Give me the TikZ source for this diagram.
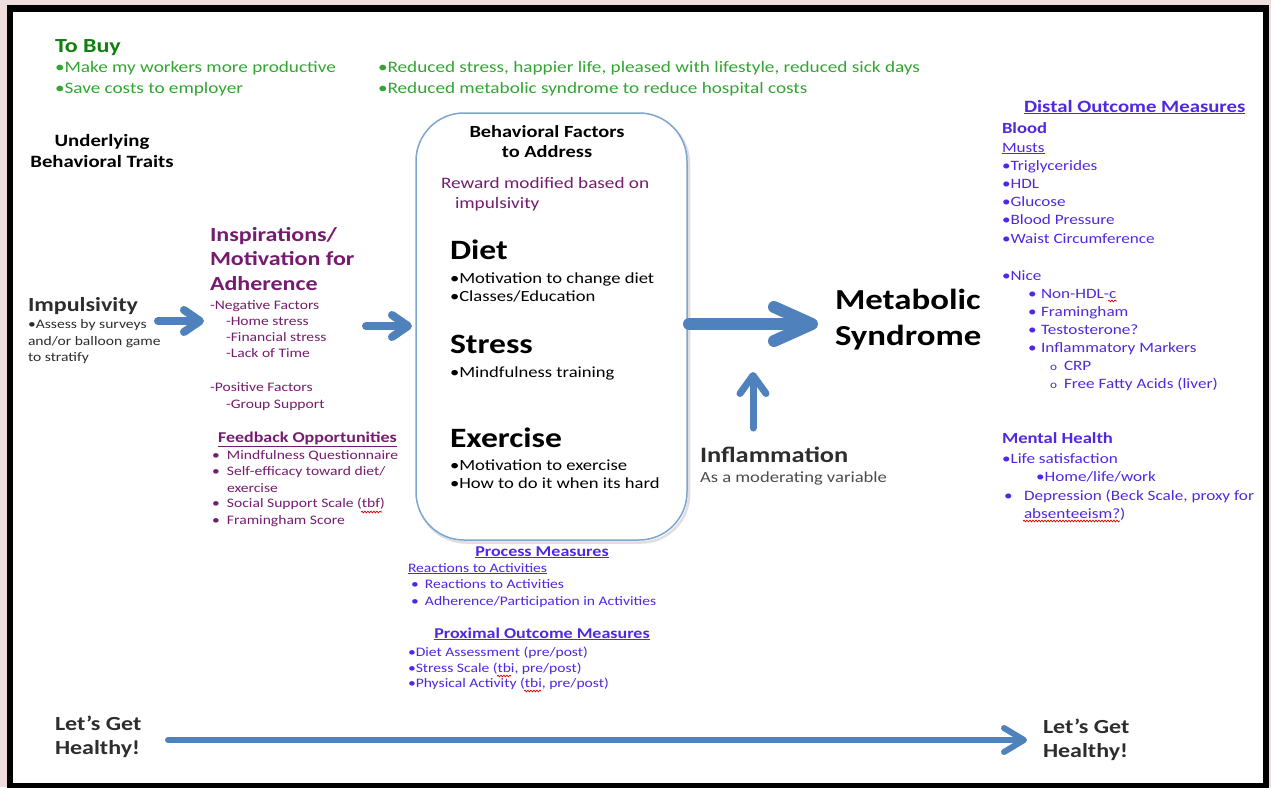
\documentclass[tikz,border=0pt]{standalone}
\usepackage{fontspec}
\setmainfont{Carlito}[FakeStretch=1.2]
\usetikzlibrary{arrows.meta,decorations.pathmorphing}
\definecolor{bgpink}{RGB}{240,222,222}
\definecolor{grnH}{RGB}{15,128,15}
\definecolor{grn}{RGB}{50,165,50}
\definecolor{purp}{RGB}{118,28,112}
\definecolor{viol}{RGB}{80,40,225}
\definecolor{dark}{RGB}{45,45,45}
\definecolor{arrc}{RGB}{79,129,189}
\definecolor{boxc}{RGB}{125,165,210}
\newcommand\fsz[2]{\fontsize{#1}{#2}\selectfont}
\newcommand\bitem[1]{\makebox[#1][l]{•}}
\begin{document}
\begin{tikzpicture}[x=1pt,y=-1pt,
  txt/.style={anchor=base west,inner sep=0pt,outer sep=0pt},
  ctxt/.style={anchor=base,inner sep=0pt,outer sep=0pt},
  gr/.style={txt,text=grn,font=\fsz{16}{19}},
  pu/.style={txt,text=purp,font=\fsz{13}{16}},
  puh/.style={txt,text=purp,font=\bfseries\fsz{20}{24}},
  bl/.style={txt,text=black,font=\fsz{15.5}{19}},
  blh/.style={txt,text=black,font=\bfseries\fsz{28}{32}},
  vi/.style={txt,text=viol,font=\fsz{13}{15}},
  ri/.style={txt,text=viol,font=\fsz{14.3}{17}},
  dk/.style={txt,text=dark,font=\fsz{13}{16}},
  dkh/.style={txt,text=dark,font=\bfseries\fsz{20}{24}},
  bigarrow/.style={draw=arrc,line cap=round},
  squig/.style={draw=red!85!black,line width=0.7pt,decorate,decoration={snake,amplitude=0.9pt,segment length=3pt}},
]
\useasboundingbox (0,0) rectangle (1271,787);
\fill[bgpink] (0,0) rectangle (1271,787);
\fill[white] (10,8.5) rectangle (1266,785);
\draw[line width=6.5pt] (10,8.5) rectangle (1266,786);

% ---- To Buy ----
\node[txt,text=grnH,font=\bfseries\fsz{20}{24}] (tobuy) at (55,52) {To Buy};
\node[gr] (g1) at (55,72) {•Make my workers more productive};
\node[gr] (g2) at (55,93) {•Save costs to employer};
\node[gr] (g3) at (378,72) {•Reduced stress, happier life, pleased with lifestyle, reduced sick days};
\node[gr] (g4) at (378,93) {•Reduced metabolic syndrome to reduce hospital costs};

% ---- Underlying traits ----
\node[ctxt,font=\bfseries\fsz{17.3}{20}] (ul1) at (102,146) {Underlying};
\node[ctxt,font=\bfseries\fsz{17.3}{20}] (ul2) at (102,167) {Behavioral Traits};

% ---- Impulsivity ----
\node[dkh] (imp) at (28,311) {Impulsivity};
\node[dk] (imp1) at (28,328) {•Assess by surveys};
\node[dk] (imp2) at (28,345) {and/or balloon game};
\node[dk] (imp3) at (28,361) {to stratify};

% ---- Inspirations ----
\node[puh] (insp1) at (210,241) {Inspirations/};
\node[puh] (insp2) at (210,265) {Motivation for};
\node[puh] (insp3) at (210,290) {Adherence};
\node[pu] (neg) at (210,309) {-Negative Factors};
\node[pu] (neg1) at (226,325) {-Home stress};
\node[pu] (neg2) at (226,341) {-Financial stress};
\node[pu] (neg3) at (226,357) {-Lack of Time};
\node[pu] (pos) at (210,391) {-Positive Factors};
\node[pu] (pos1) at (226,408) {-Group Support};

% ---- Feedback ----
\node[txt,text=purp,font=\bfseries\fsz{15}{18}] (fbh) at (218,442) {\underline{Feedback Opportunities}};
\node[pu] (fb1) at (212,459) {\bitem{15pt}Mindfulness Questionnaire};
\node[pu] (fb2) at (212,475) {\bitem{15pt}Self-efficacy toward diet/};
\node[pu] (fb2b) at (227,492) {exercise};
\node[pu] (fb3) at (212,507) {\bitem{15pt}Social Support Scale (tbf)};
\node[pu] (fb4) at (212,524) {\bitem{15pt}Framingham Score};

% ---- Central box ----
\node[draw=gray!25,line width=2.5pt,rounded corners=48pt,minimum width=271pt,minimum height=427pt,inner sep=0pt] (bfshadow) at (553.5,329) {};
\node[draw=boxc,fill=white,line width=1.5pt,rounded corners=48pt,minimum width=271pt,minimum height=427pt,inner sep=0pt] (bfbox) at (551.5,326.5) {};
\node[ctxt,font=\bfseries\fsz{17}{20}] (bfh1) at (547,137) {Behavioral Factors};
\node[ctxt,font=\bfseries\fsz{17}{20}] (bfh2) at (547,157) {to Address};
\node[txt,text=purp,font=\fsz{16}{19}] (rw1) at (441,188) {Reward modified based on};
\node[txt,text=purp,font=\fsz{16}{19}] (rw2) at (455,208) {impulsivity};
\node[blh] (diet) at (450,259) {Diet};
\node[bl] (diet1) at (450,283) {•Motivation to change diet};
\node[bl] (diet2) at (450,301) {•Classes/Education};
\node[blh] (stress) at (450,353) {Stress};
\node[bl] (stress1) at (450,377) {•Mindfulness training};
\node[blh] (exer) at (450,447) {Exercise};
\node[bl] (exer1) at (450,470) {•Motivation to exercise};
\node[bl] (exer2) at (450,488) {•How to do it when its hard};

% ---- Process measures ----
\node[ctxt,text=viol,font=\bfseries\fsz{15}{18}] (pm) at (542,556) {\underline{Process Measures}};
\node[vi] (pmsub) at (408,572) {\underline{Reactions to Activities}};
\node[vi] (pm1) at (411,588) {\bitem{14pt}Reactions to Activities};
\node[vi] (pm2) at (411,605) {\bitem{14pt}Adherence/Participation in Activities};
\node[ctxt,text=viol,font=\bfseries\fsz{15}{18}] (pom) at (542,638) {\underline{Proximal Outcome Measures}};
\node[vi] (po1) at (408,656) {•Diet Assessment (pre/post)};
\node[vi] (po2) at (408,672) {•Stress Scale (tbi, pre/post)};
\node[vi] (po3) at (408,687) {•Physical Activity (tbi, pre/post)};

% ---- Metabolic syndrome / Inflammation ----
\node[txt,font=\bfseries\fsz{29}{34}] (ms1) at (835,309) {Metabolic};
\node[txt,font=\bfseries\fsz{29}{34}] (ms2) at (835,345) {Syndrome};
\node[txt,text=dark,font=\bfseries\fsz{22}{26}] (inf) at (700,462) {Inflammation};
\node[txt,text=dark!85,font=\fsz{15.5}{18}] (inf1) at (700,482) {As a moderating variable};

% ---- Distal outcome measures ----
\node[txt,text=viol,font=\bfseries\fsz{17.3}{20}] (dom) at (1024,112) {\underline{Distal Outcome Measures}};
\node[txt,text=viol,font=\bfseries\fsz{15.5}{19}] (blood) at (1002,133) {Blood};
\node[ri] (musts) at (1002,152) {\underline{Musts}};
\node[ri] (d1) at (1002,170) {•Triglycerides};
\node[ri] (d2) at (1002,188) {•HDL};
\node[ri] (d3) at (1002,206) {•Glucose};
\node[ri] (d4) at (1002,224) {•Blood Pressure};
\node[ri] (d5) at (1002,243) {•Waist Circumference};
\node[ri] (nice) at (1002,280) {•Nice};
\node[ri] (n1) at (1028,298) {\bitem{13pt}Non-HDL-c};
\node[ri] (n2) at (1028,316) {\bitem{13pt}Framingham};
\node[ri] (n3) at (1028,334) {\bitem{13pt}Testosterone?};
\node[ri] (n4) at (1028,352) {\bitem{13pt}Inflammatory Markers};
\node[ri] (n5) at (1050,370) {\makebox[14pt][l]{\fsz{11}{13}o}CRP};
\node[ri] (n6) at (1050,388) {\makebox[14pt][l]{\fsz{11}{13}o}Free Fatty Acids (liver)};
\node[txt,text=viol,font=\bfseries\fsz{15.5}{19}] (mh) at (1002,443) {Mental Health};
\node[ri] (mh1) at (1002,463) {•Life satisfaction};
\node[ri] (mh2) at (1036,481) {•Home/life/work};
\node[ri] (mh3) at (1004,500) {\bitem{20pt}Depression (Beck Scale, proxy for};
\node[ri] (mh4) at (1024,518) {absenteeism?)};

% ---- Let's get healthy ----
\node[txt,text=dark,font=\bfseries\fsz{20}{24}] (lg1) at (55,730) {Let’s Get};
\node[txt,text=dark,font=\bfseries\fsz{20}{24}] (lg2) at (55,754) {Healthy!};
\node[txt,text=dark,font=\bfseries\fsz{20}{24}] (rg1) at (1043,733) {Let’s Get};
\node[txt,text=dark,font=\bfseries\fsz{20}{24}] (rg2) at (1043,757) {Healthy!};

% ---- Arrows ----
\coordinate (a1s) at (158,321); \coordinate (a1e) at (204,321);
\coordinate (a2s) at (366,326); \coordinate (a2e) at (412,326);
\coordinate (a3s) at (689,324); \coordinate (a3e) at (818,324);
\coordinate (a4s) at (753,428); \coordinate (a4e) at (753,372);
\coordinate (a5s) at (168,740); \coordinate (a5e) at (1027,740);
\draw[bigarrow,line width=8pt,-{Straight Barb[length=16pt,width=22pt,round]}] (a1s) -- (a1e);
\draw[bigarrow,line width=8pt,-{Straight Barb[length=16pt,width=22pt,round]}] (a2s) -- (a2e);
\draw[bigarrow,line width=12pt,-{Straight Barb[length=38pt,width=34pt,round]}] (a3s) -- (a3e);
\draw[bigarrow,line width=7pt,-{Straight Barb[length=18pt,width=26pt,round]}] (a4s) -- (a4e);
\draw[bigarrow,line width=6pt,-{Straight Barb[length=20pt,width=24pt,round]}] (a5s) -- (a5e);

% ---- spell-check squiggles ----
\draw[squig] (361,512) -- (382,512);
\draw[squig] (497,676) -- (511,676);
\draw[squig] (524,691) -- (541,691);
\draw[squig] (1108,301) -- (1117,301);
\draw[squig] (1023,521) -- (1120,521);
\end{tikzpicture}
\end{document}
